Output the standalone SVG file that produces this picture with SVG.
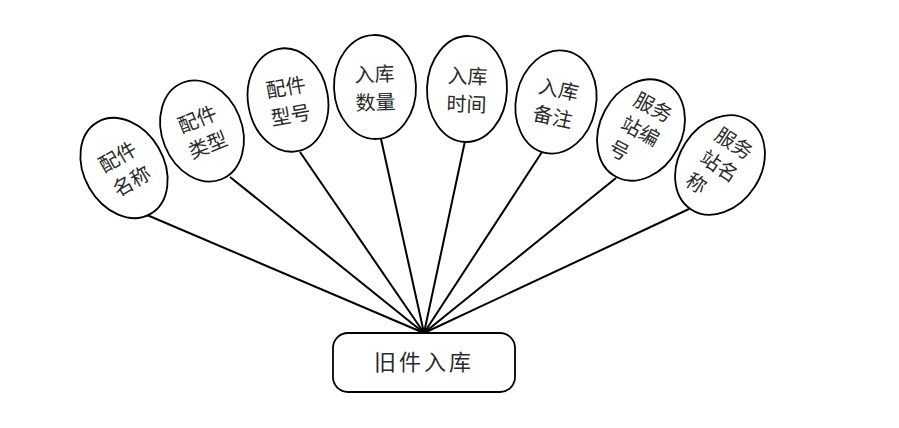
<svg xmlns="http://www.w3.org/2000/svg" width="899" height="428" viewBox="0 0 899 428">
<style>
.e{fill:#fff;stroke:#000;stroke-width:1.8}
.t{font-family:"Noto Sans CJK SC","Noto Sans",sans-serif;font-size:20px;fill:#2a2a2a;dominant-baseline:central}
.c{stroke:#000;stroke-width:2;fill:none}
.main{font-family:"Noto Sans CJK SC","Noto Sans",sans-serif;font-size:22px;fill:#2a2a2a;letter-spacing:3px}
</style>
<rect width="899" height="428" fill="#fff"/>
<g id="connectors">
<line class="c" x1="424" y1="333" x2="147" y2="215"/>
<line class="c" x1="424" y1="333" x2="230" y2="177"/>
<line class="c" x1="424" y1="333" x2="300" y2="152"/>
<line class="c" x1="424" y1="333" x2="381" y2="139"/>
<line class="c" x1="424" y1="333" x2="465" y2="141"/>
<line class="c" x1="424" y1="333" x2="542" y2="152"/>
<line class="c" x1="424" y1="333" x2="616" y2="178"/>
<line class="c" x1="424" y1="333" x2="689" y2="209"/>
</g>
<g id="n1" transform="translate(124,168) rotate(-30)">
<ellipse class="e" rx="40" ry="53"/>
<text class="t" x="-20" y="-14">配件</text><text class="t" x="-20" y="14">名称</text>
</g>
<g id="n2" transform="translate(202,131) rotate(-22)">
<ellipse class="e" rx="40" ry="52"/>
<text class="t" x="-20" y="-14">配件</text><text class="t" x="-20" y="14">类型</text>
</g>
<g id="n3" transform="translate(288,100) rotate(-10)">
<ellipse class="e" rx="40" ry="52"/>
<text class="t" x="-20" y="-14">配件</text><text class="t" x="-20" y="14">型号</text>
</g>
<g id="n4" transform="translate(375,87) rotate(-2)">
<ellipse class="e" rx="41" ry="52"/>
<text class="t" x="-20" y="-14">入库</text><text class="t" x="-20" y="14">数量</text>
</g>
<g id="n5" transform="translate(467,89) rotate(2)">
<ellipse class="e" rx="40" ry="53"/>
<text class="t" x="-20" y="-14">入库</text><text class="t" x="-20" y="14">时间</text>
</g>
<g id="n6" transform="translate(556,102) rotate(12)">
<ellipse class="e" rx="40" ry="52"/>
<text class="t" x="-20" y="-14">入库</text><text class="t" x="-20" y="14">备注</text>
</g>
<g id="n7" transform="translate(641,130) rotate(28)">
<ellipse class="e" rx="41" ry="53"/>
<text class="t" x="-20" y="-27">服务</text><text class="t" x="-20" y="0">站编</text><text class="t" x="-20" y="27">号</text>
</g>
<g id="n8" transform="translate(720,165) rotate(33)">
<ellipse class="e" rx="41" ry="53"/>
<text class="t" x="-20" y="-27">服务</text><text class="t" x="-20" y="0">站名</text><text class="t" x="-20" y="27">称</text>
</g>
<g id="main">
<rect x="333" y="333" width="182" height="59" rx="15" ry="15" fill="#fff" stroke="#000" stroke-width="1.8"/>
<text class="main" x="424" y="370" text-anchor="middle">旧件入库</text>
</g>
</svg>
